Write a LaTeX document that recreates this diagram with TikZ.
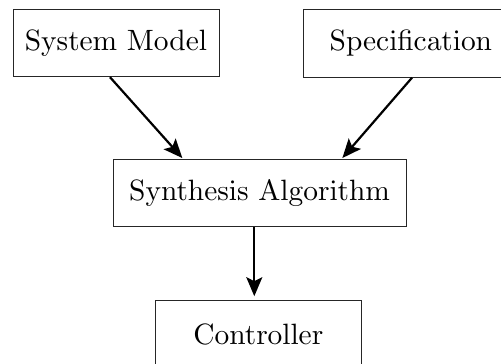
\documentclass[tikz,border=0pt]{standalone}
\usetikzlibrary{arrows.meta}
% text face: the 10pt design of Computer Modern, enlarged
\font\boxfont=cmr10 at 29.4pt
\begin{document}
\begin{tikzpicture}[x=1pt,y=1pt,
  box/.style={draw=black!85, line width=1pt, rectangle, minimum height=67.4pt,
    inner sep=0pt, font=\boxfont},
  flow/.style={line width=2.2pt, -{Stealth[length=19pt,width=16pt,inset=4pt]}}]
  \clip (0,0) rectangle (501,364);
  \useasboundingbox (0,0) rectangle (501,364);
  % inputs
  \node[box, minimum width=206pt] (sm) at (116,321) {System Model};
  \node[box, minimum width=216pt] (sp) at (411,320.5) {Specification};
  % synthesis step
  \node[box, minimum width=292.7pt] (sa) at (259.7,171) {Synthesis Algorithm};
  % output
  \node[box, minimum width=206.7pt] (ct) at (258.4,29.6) {Controller};
  % connectors
  \draw[flow, shorten >=1pt] ([xshift=-6pt]sm.south) -- ([xshift=-76.7pt]sa.north);
  \draw[flow, shorten >=1pt] ([xshift=1pt]sp.south) -- ([xshift=82pt]sa.north);
  \draw[flow, shorten >=4pt] ([xshift=-5.4pt]sa.south) -- ([xshift=-5.4pt]sa.south |- ct.north);
\end{tikzpicture}
\end{document}
